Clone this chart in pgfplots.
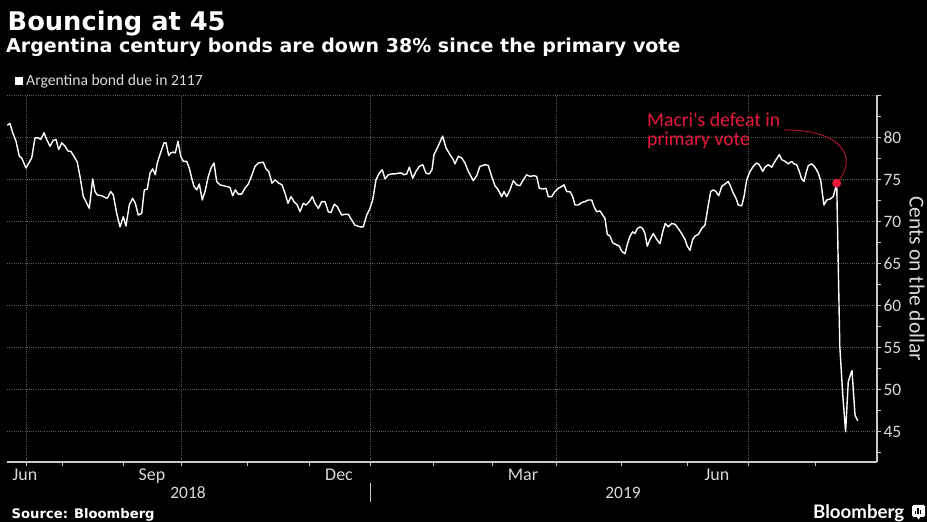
\documentclass[border=0pt]{standalone}
\usepackage{fontspec}
\setmainfont{Carlito}
\newfontfamily\djv{DejaVu Sans}
\newfontfamily\latof{Lato}
\usepackage{pgfplots}
\pgfplotsset{compat=1.18}
\definecolor{gridc}{RGB}{90,90,90}
\definecolor{axc}{RGB}{200,200,200}
\definecolor{txtc}{RGB}{218,218,218}
\definecolor{annred}{RGB}{232,24,60}
\definecolor{curvered}{RGB}{165,20,45}
\begin{document}
\begin{tikzpicture}
\useasboundingbox (0,0) rectangle (927bp,522bp);
\fill[black] (0,0) rectangle (927bp,522bp);
\node[anchor=base west, inner sep=0, text=white, font=\djv\bfseries\fontsize{25.8}{30}\selectfont] at (7.5bp,491bp) {Bouncing at 45};
\node[anchor=base west, inner sep=0, text=white, font=\djv\bfseries\fontsize{19.1}{22}\selectfont] at (6bp,469bp) {Argentina century bonds are down 38\% since the primary vote};
\fill[white] (15bp,437bp) rectangle (23bp,445bp);
\node[anchor=base west, inner sep=0, text=txtc, font=\fontsize{15.7}{18}\selectfont] at (26bp,436bp) {Argentina bond due in 2117};
\begin{axis}[
  at={(7bp,60bp)}, anchor=south west,
  scale only axis, width=870bp, height=367bp,
  xmin=7, xmax=877, ymin=41.4, ymax=85.1,
  enlargelimits=false,
  axis x line*=bottom, axis y line*=right,
  axis line style={-, draw=axc, line width=1.1bp},
  tick align=outside,
  major tick length=4bp, minor tick length=4bp,
  tick style={draw=axc, line width=0.9bp},
  xtick={26,181,370,556,748},
  xticklabels={},
  minor xtick={62,123,247,309,433,492,621,687,815},
  extra x ticks={25,152,339,523,717},
  extra x tick labels={Jun,Sep,Dec,Mar,Jun},
  extra x tick style={grid=none, major tick length=0pt},
  ytick={45,50,55,60,65,70,75,80,85},
  yticklabels={45,50,55,60,65,70,75,80,{}},
  minor ytick={42.5,47.5,52.5,57.5,62.5,67.5,72.5,77.5,82.5},
  xmajorgrids, ymajorgrids,
  grid style={draw=gridc, line width=0.8bp, dash pattern=on 0.8bp off 1.4bp},
  /pgf/number format/assume math mode=true,
  xticklabel style={text=txtc, font=\fontsize{18}{20}\selectfont, yshift=-3.5bp},
  yticklabel style={text=txtc, font=\fontsize{17.5}{20}\selectfont, xshift=-1bp},
  ylabel={Cents on the dollar},
  every axis y label/.style={at={(rel axis cs:1,0.5)}, anchor=center, xshift=40bp, rotate=-90, text=txtc, font=\fontsize{21.5}{24}\selectfont},
]
\addplot[white, line width=1.4bp, line join=round] table {
x y
7.3 81.5
10.0 81.7
12.7 80.6
16.0 79.6
19.3 77.8
21.7 77.6
26.0 76.4
29.3 77.1
31.7 77.6
35.0 80.0
38.3 80.0
40.7 79.8
44.0 80.6
46.7 79.8
50.0 79.0
53.3 79.7
56.0 79.8
58.7 78.6
61.7 79.4
65.0 79.0
68.3 78.4
70.7 78.4
74.0 77.8
77.3 77.1
80.0 75.4
83.3 73.0
86.0 72.4
89.3 71.6
92.7 75.1
95.0 73.6
97.3 73.2
101.7 73.1
105.0 72.9
107.3 72.8
110.7 73.6
113.3 73.2
116.7 71.0
120.0 69.4
123.3 70.6
126.0 69.5
129.3 72.0
132.7 72.8
135.3 72.2
138.3 70.8
141.7 71.0
144.3 73.8
147.3 73.9
150.0 75.8
152.7 76.3
155.3 75.6
157.3 77.0
160.0 78.0
164.0 79.4
166.0 79.4
168.7 77.9
170.7 78.2
173.3 78.3
175.3 78.2
178.0 79.6
180.7 77.8
183.3 77.2
186.7 77.2
189.3 76.4
191.7 75.2
194.0 74.2
196.7 73.8
199.3 74.5
202.3 72.6
205.0 73.6
208.3 75.4
211.0 76.4
214.0 77.0
216.7 74.8
220.0 74.4
223.3 74.3
226.7 74.2
230.0 74.1
232.7 73.1
235.3 73.8
238.3 73.3
241.7 73.3
245.0 74.0
248.3 74.5
251.7 75.5
255.0 76.6
258.3 77.0
263.3 77.1
266.0 76.3
268.7 76.0
272.0 74.6
275.3 75.0
278.7 74.6
282.0 74.4
285.0 73.4
288.0 72.2
291.0 73.0
294.0 72.4
297.3 72.0
300.0 71.2
303.3 72.2
306.0 72.0
309.3 72.4
312.3 73.0
315.0 72.2
318.3 71.6
321.7 72.4
325.0 72.4
328.3 71.2
331.0 71.1
334.3 72.1
337.3 71.8
341.7 70.8
345.0 70.9
348.3 70.9
351.7 70.2
355.0 69.6
360.0 69.4
363.3 69.4
366.7 70.8
370.0 71.6
372.7 72.6
376.0 75.0
379.3 75.8
382.3 76.2
385.0 75.1
388.3 75.6
391.7 75.7
395.0 75.7
398.3 75.8
401.7 75.8
404.0 75.6
406.7 75.7
409.3 76.5
412.7 75.2
416.0 76.0
419.3 76.6
422.7 76.8
426.0 75.8
429.3 75.7
432.0 76.2
434.0 78.0
437.3 78.8
442.7 80.2
446.0 78.8
450.0 78.0
453.3 77.4
455.0 76.9
458.3 77.8
461.7 77.6
465.0 77.0
468.3 76.0
473.3 74.9
476.7 75.5
480.0 76.6
485.0 76.8
488.3 76.7
491.7 75.4
495.0 74.3
498.3 73.8
501.7 73.0
504.0 73.6
506.7 73.0
510.0 73.8
513.3 74.9
516.7 74.4
520.0 74.3
523.3 75.0
526.7 75.6
530.0 75.4
534.0 75.5
536.7 75.4
539.3 74.0
542.7 73.9
546.0 74.0
548.3 73.0
551.7 73.0
555.0 73.6
558.3 74.0
561.7 74.2
564.0 74.4
566.7 73.6
570.0 73.6
572.7 73.0
575.0 72.0
578.3 72.0
581.7 72.3
585.0 72.4
588.3 72.6
591.7 72.6
594.0 71.8
596.7 71.2
600.0 71.3
602.7 70.8
605.0 70.4
607.3 68.5
610.0 68.3
612.7 67.5
616.0 67.3
619.3 67.1
621.7 66.5
625.0 66.2
627.3 67.3
630.0 68.3
632.7 68.8
635.0 68.6
637.3 69.2
640.0 69.4
642.7 69.2
645.0 68.6
647.3 67.1
650.0 67.9
653.3 68.6
656.7 67.9
660.0 67.4
662.7 68.8
665.3 69.8
668.3 69.4
671.7 69.8
675.0 69.7
678.3 69.2
681.7 68.6
685.0 67.9
687.3 67.1
690.0 66.6
692.7 67.9
695.0 68.3
698.3 68.5
701.7 69.2
705.0 69.6
708.3 72.0
710.7 73.6
713.3 73.8
716.0 73.6
718.7 73.1
721.7 74.2
725.0 74.5
728.3 74.8
730.7 74.2
733.3 73.4
736.0 72.8
738.3 72.0
741.7 71.9
744.0 73.0
746.7 75.0
750.0 76.0
753.3 76.6
756.7 77.0
759.3 76.8
762.7 76.0
765.0 76.5
768.3 76.8
771.7 76.5
775.0 77.2
779.3 78.0
781.7 77.4
785.0 77.2
788.3 76.9
791.7 77.2
794.0 76.9
796.7 76.8
799.3 76.0
801.7 75.1
804.0 74.8
806.0 75.8
808.3 76.7
811.7 76.9
815.0 76.5
818.3 75.8
820.7 74.9
822.7 73.1
824.0 72.0
826.7 72.6
830.0 72.7
833.3 73.0
836.7 74.6
839.8 55.2
842.7 49.5
845.6 45.0
848.3 51.0
852.0 52.3
855.0 47.0
857.7 46.3
};
\draw[curvered, line width=1bp] (axis cs:783.5,80.95) .. controls (axis cs:845,80.95) and (axis cs:858,77.5) .. (axis cs:836.7,74.6);
\addplot[only marks, mark=*, mark size=4.2bp, color=annred, mark options={draw=annred, fill=annred}] coordinates {(836.7,74.6)};
\node[anchor=base west, inner sep=0, align=left, text=annred, font=\fontsize{19.8}{19.5}\selectfont] at (axis cs:647,79.05) {Macri\textquotesingle s defeat in\\primary vote};
\end{axis}
\node[anchor=base, inner sep=0, text=txtc, font=\fontsize{17.5}{20}\selectfont] at (188bp,23.5bp) {2018};
\node[anchor=base, inner sep=0, text=txtc, font=\fontsize{17.5}{20}\selectfont] at (623bp,23.5bp) {2019};
\draw[axc, line width=0.9bp] (370bp,20bp) -- (370bp,39bp);
\node[anchor=base west, inner sep=0, text=white, font=\djv\bfseries\fontsize{13.2}{15}\selectfont] at (11.5bp,3.4bp) {Source: Bloomberg};
\node[anchor=base west, inner sep=0, text=white] at (813bp,4bp) {\resizebox{91bp}{!}{\latof\bfseries Bloomberg}};
\fill[white, rounded corners=1.5bp] (912bp,5bp) rectangle (925bp,17bp);
\fill[white] (916.5bp,5.5bp) -- (920.5bp,5.5bp) -- (918.5bp,2.5bp) -- cycle;
\fill[black] (914.5bp,8bp) rectangle (915.8bp,11bp);
\fill[black] (917.3bp,8bp) rectangle (918.6bp,14bp);
\fill[black] (920.1bp,8bp) rectangle (921.4bp,12bp);
\end{tikzpicture}
\end{document}
